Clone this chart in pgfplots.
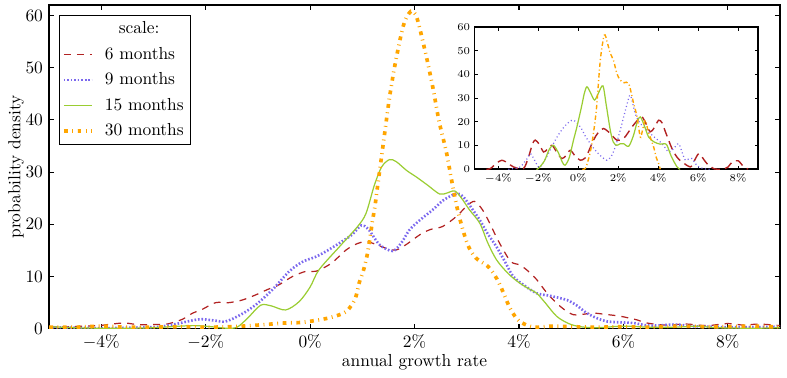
\documentclass[border=0pt]{standalone}
\usepackage{pgfplots}
\usepackage{pgfplotstable}
\pgfplotsset{compat=1.18}
\usetikzlibrary{calc}

\definecolor{cred}{HTML}{B22222}
\definecolor{cblue}{HTML}{7B68EE}
\definecolor{cgreen}{HTML}{9ACD32}
\definecolor{corange}{HTML}{FFA500}

% main panel, smoothed densities
\pgfplotstableread{
x y
-5.0 0.3
-4.6 0.4
-4.06 0.6
-3.8 0.9
-3.55 1.1
-3.3 0.8
-3.0 0.8
-2.74 0.9
-2.45 1.8
-2.25 3.0
-2.07 3.7
-1.81 5.0
-1.56 5.0
-1.3 5.5
-1.04 6.5
-0.82 7.5
-0.6 8.4
-0.34 10.0
-0.08 11.0
0.11 11.0
0.4 12.5
0.69 15.1
0.9 16.3
1.07 16.7
1.25 16.2
1.46 15.4
1.65 15.1
1.85 16.2
2.1 18.0
2.3 19.0
2.54 19.6
2.8 21.5
3.0 23.5
3.15 24.4
3.3 22.8
3.44 20.2
3.57 17.5
3.70 15.1
3.85 12.8
4.02 12.2
4.18 11.0
4.34 9.4
4.5 7.3
4.66 5.5
4.85 3.8
5.04 2.7
5.25 2.8
5.43 3.0
5.7 2.7
5.94 2.4
6.26 1.7
6.45 1.1
6.8 0.7
7.2 0.9
7.6 0.6
8.0 1.0
8.3 0.7
8.6 0.9
9.0 0.6
}\dsix

\pgfplotstableread{
x y
-5.0 0.3
-4.5 0.2
-4.0 0.1
-3.5 0.2
-3.0 0.3
-2.8 0.5
-2.58 0.9
-2.13 1.8
-1.85 1.6
-1.62 1.4
-1.33 2.7
-1.04 4.6
-0.72 7.5
-0.4 11.0
-0.15 12.8
0.11 13.8
0.3 14.8
0.56 16.4
0.8 18.0
0.98 19.8
1.12 19.0
1.33 16.1
1.58 14.9
1.75 16.5
1.9 18.9
2.1 20.8
2.35 22.8
2.55 24.6
2.8 25.9
2.93 25.3
3.1 23.0
3.25 20.8
3.4 18.2
3.57 15.7
3.75 12.5
3.89 10.0
4.1 8.3
4.34 6.8
4.6 6.3
4.92 5.5
5.1 4.5
5.3 3.0
5.5 2.0
5.69 1.4
6.0 1.2
6.2 1.1
6.5 0.6
7.0 0.8
7.3 0.5
7.6 0.4
8.0 0.3
8.5 0.3
9.0 0.4
}\dnine

\pgfplotstableread{
x y
-5.0 0.4
-4.5 0.2
-4.0 0.1
-3.5 0.1
-3.0 0.2
-2.5 0.5
-2.2 0.6
-1.9 0.4
-1.6 0.1
-1.4 0.3
-1.2 2.0
-0.95 4.5
-0.75 4.4
-0.47 3.6
-0.21 5.2
0.0 8.0
0.17 11.3
0.56 15.7
0.91 19.6
1.07 22.1
1.23 27.5
1.37 31.0
1.52 32.4
1.65 32.0
1.85 30.3
2.03 29.1
2.25 27.5
2.48 25.8
2.62 26.0
2.77 26.4
2.9 25.0
3.05 22.8
3.25 20.2
3.4 16.5
3.57 13.2
3.8 10.5
4.02 8.7
4.2 7.6
4.34 6.8
4.5 5.0
4.72 2.4
4.95 1.0
5.17 0.4
5.5 0.2
6.0 0.5
6.5 0.3
7.0 0.3
7.4 0.5
7.8 0.2
8.5 0.1
9.0 0.2
}\dfifteen

\pgfplotstableread{
x y
-5.0 0.3
-4.5 0.3
-4.0 0.5
-3.5 0.3
-3.0 0.3
-2.5 0.4
-2.0 0.3
-1.5 0.4
-1.0 0.7
-0.5 1.1
-0.18 1.2
0.11 1.6
0.41 2.2
0.69 3.3
0.86 5.7
0.94 8.8
1.03 11.5
1.10 14.5
1.15 17.6
1.19 20.4
1.24 23.4
1.28 26.4
1.36 32.4
1.44 38.4
1.52 44.3
1.62 50.3
1.74 56.2
1.82 59.1
1.93 60.8
2.02 60.2
2.10 57.5
2.24 51.5
2.36 45.7
2.47 39.7
2.61 33.8
2.72 27.9
2.84 22.1
3.01 16.3
3.17 13.6
3.41 11.9
3.58 9.5
3.71 6.7
3.83 3.9
4.0 1.5
4.28 0.3
4.6 0.5
5.0 0.4
5.5 0.3
6.0 0.4
6.5 0.3
7.0 0.5
7.5 0.4
8.0 0.4
8.5 0.5
9.0 0.3
}\dthirty

% inset, raw densities
\pgfplotstableread{
x y
-4.6 0
-4.4 0.3
-4.1 2.5
-3.83 3.8
-3.5 2.5
-3.25 1.0
-2.75 0.3
-2.5 5.0
-2.3 10.5
-2.16 12.3
-1.95 10.5
-1.74 7.3
-1.55 8.5
-1.32 10.1
-1.1 7.5
-0.82 4.5
-0.6 6.0
-0.4 8.0
-0.15 5.5
0.1 3.8
0.3 4.5
0.43 5.9
0.76 12.3
1.0 15.5
1.26 17.2
1.6 15.1
1.93 12.3
2.27 13.0
2.69 17.9
3.0 21.0
3.19 22.1
3.4 19.0
3.6 15.8
3.8 17.5
4.02 20.7
4.2 19.5
4.36 15.8
4.69 8.7
4.95 5.0
5.19 3.1
5.61 1.0
5.8 3.5
6.03 6.6
6.25 4.5
6.44 2.4
6.8 0.2
7.2 0.0
7.5 1.0
7.7 3.1
8.0 3.6
8.28 1.0
8.5 0.1
}\isix

\pgfplotstableread{
x y
-3.5 0
-3.1 0.5
-2.9 1.0
-2.6 4.0
-2.4 6.6
-2.2 4.0
-2.0 1.0
-1.85 1.5
-1.6 5.0
-1.3 10.0
-1.0 14.5
-0.7 18.0
-0.45 20.0
-0.24 20.7
0.1 17.9
0.35 14.0
0.6 10.8
0.9 7.5
1.18 5.2
1.43 3.8
1.65 5.5
1.85 9.4
2.05 15.0
2.27 22.1
2.52 29.9
2.62 31.0
2.85 23.5
3.05 20.0
3.27 17.9
3.69 14.4
4.19 10.8
4.52 7.3
4.75 8.5
5.02 10.8
5.2 7.0
5.36 3.8
5.55 4.5
5.69 4.5
5.85 2.5
6.03 1.0
6.3 0.2
6.6 0
}\inine

\pgfplotstableread{
x y
-2.1 0
-2.0 0.3
-1.7 3.5
-1.45 8.5
-1.24 10.1
-1.0 7.0
-0.8 3.0
-0.66 1.7
-0.45 5.0
-0.25 12.0
-0.07 17.9
0.15 26.0
0.3 32.0
0.43 34.8
0.6 32.5
0.81 29.2
1.0 32.0
1.23 35.2
1.4 27.0
1.6 16.5
1.75 11.5
1.93 10.1
2.1 10.8
2.27 10.8
2.52 9.7
2.75 14.0
2.95 20.0
3.1 22.1
3.3 18.5
3.52 13.6
3.8 11.5
4.1 10.6
4.3 10.8
4.44 10.1
4.65 5.5
4.94 1.0
5.1 0
}\ififteen

\pgfplotstableread{
x y
0.2 0
0.35 0.3
0.5 4.0
0.68 10.8
0.9 24.9
1.1 46.0
1.3 56.6
1.45 53.5
1.6 48.9
1.76 46.0
1.93 40.4
2.1 37.6
2.3 36.5
2.52 36.2
2.77 27.8
2.94 22.1
3.1 13.6
3.2 16.0
3.35 20.7
3.5 16.0
3.77 9.4
3.9 5.0
4.02 2.4
4.1 0
}\ithirty

\begin{document}
\begin{tikzpicture}
\begin{axis}[
  name=main,
  scale only axis,
  width=420pt, height=186pt,
  xmin=-5, xmax=9, ymin=0, ymax=62,
  xtick={-4,-2,...,8}, ytick={0,10,...,60},
  xticklabel={$\pgfmathprintnumber{\tick}\%$},
  tick align=inside,
  major tick length=3pt,
  major tick style={black, line width=0.6pt},
  axis line style={line width=0.7pt},
  xlabel={annual growth rate},
  ylabel={probability density},
  xlabel shift=-4pt, ylabel shift=-6pt,
  legend style={at={(0.0137,0.969)}, anchor=north west, draw=black,
    row sep=2.2pt, inner xsep=1.5pt, inner ysep=1.5pt,
    /tikz/every odd column/.style={column sep=4.5pt}},
  legend cell align=left,
  legend image code/.code={\draw[mark repeat=2,mark phase=2]
    plot coordinates {(0pt,0pt) (8pt,0pt) (16pt,0pt)};},
]
\addlegendimage{empty legend}
\addlegendentry{\hspace*{8pt}scale:}
\addplot[cred, line width=0.7pt, dash pattern=on 4pt off 3.5pt, smooth] table {\dsix};
\addlegendentry{6 months}
\addplot[cblue, line width=1.5pt, dash pattern=on 0.9pt off 1.1pt, smooth] table {\dnine};
\addlegendentry{9 months}
\addplot[cgreen, line width=0.7pt, smooth] table {\dfifteen};
\addlegendentry{15 months}
\addplot[corange, line width=2.1pt, dash pattern=on 2.2pt off 2.6pt on 0.5pt off 2.6pt, smooth] table {\dthirty};
\addlegendentry{30 months}
\end{axis}

\begin{axis}[
  at={($(main.north west)+(244.4pt,-12.65pt)$)}, anchor=north west,
  scale only axis,
  width=163pt, height=81.7pt,
  xmin=-5.2, xmax=9, ymin=0, ymax=60,
  xtick={-4,-2,...,8}, ytick={0,10,...,60},
  xticklabel={$\pgfmathprintnumber{\tick}\%$},
  tick label style={font=\fontsize{6}{7}\selectfont},
  tick align=inside,
  major tick length=2pt,
  major tick style={black, line width=0.6pt},
  axis line style={line width=0.9pt},
  axis background/.style={fill=white},
  xticklabel shift=-1pt, yticklabel shift=-1pt,
]
\addplot[cred, line width=0.8pt, dash pattern=on 5pt off 3pt, smooth] table {\isix};
\addplot[cblue, line width=0.7pt, dash pattern=on 0.6pt off 1.5pt, smooth] table {\inine};
\addplot[cgreen, line width=0.7pt, smooth] table {\ififteen};
\addplot[corange, line width=0.8pt, dash pattern=on 2.5pt off 1.5pt on 0.6pt off 1.5pt, smooth] table {\ithirty};
\end{axis}

\pgfresetboundingbox
\path[use as bounding box] ($(main.south west)+(-28.2pt,-28.2pt)$)
  rectangle ($(main.south west)+(424pt,188.9pt)$);
\end{tikzpicture}
\end{document}
